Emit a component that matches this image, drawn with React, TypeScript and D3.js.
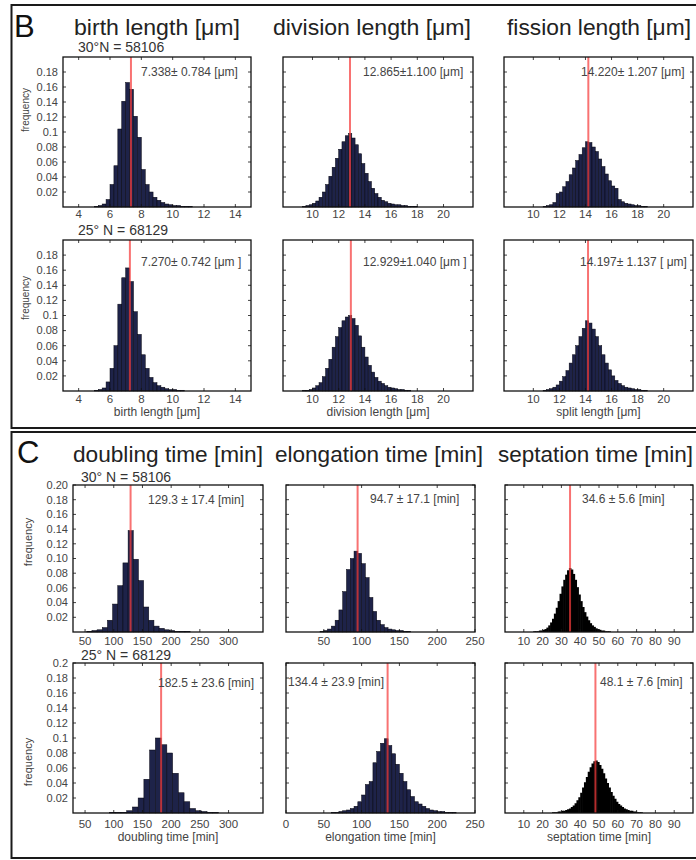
import { scaleLinear } from "d3"

// histogram frequencies per bin
const birth30 = [0.001, 0.002, 0.004, 0.01, 0.03, 0.055, 0.104, 0.141, 0.166, 0.157, 0.121, 0.093, 0.05, 0.03, 0.02, 0.013, 0.009, 0.006, 0.004, 0.003, 0.002, 0.002, 0.001, 0.001, 0.001]
const birth25 = [0.001, 0.002, 0.004, 0.012, 0.03, 0.06, 0.115, 0.15, 0.163, 0.145, 0.105, 0.075, 0.048, 0.03, 0.018, 0.011, 0.007, 0.005, 0.003, 0.002, 0.002, 0.001, 0.001]
const division30 = [0.001, 0.002, 0.003, 0.005, 0.008, 0.013, 0.02, 0.03, 0.041, 0.053, 0.065, 0.077, 0.087, 0.095, 0.098, 0.092, 0.083, 0.071, 0.058, 0.045, 0.034, 0.025, 0.018, 0.013, 0.009, 0.007, 0.005, 0.004, 0.003, 0.003, 0.002, 0.002, 0.001, 0.001, 0.001]
const division25 = [0.001, 0.001, 0.002, 0.004, 0.007, 0.011, 0.019, 0.03, 0.042, 0.058, 0.072, 0.084, 0.093, 0.098, 0.1, 0.096, 0.087, 0.073, 0.058, 0.045, 0.034, 0.025, 0.018, 0.013, 0.01, 0.007, 0.005, 0.004, 0.003, 0.002, 0.002, 0.001, 0.001]
const fission30 = [0.001, 0.002, 0.003, 0.006, 0.018, 0.02, 0.027, 0.034, 0.043, 0.052, 0.062, 0.07, 0.079, 0.087, 0.086, 0.08, 0.074, 0.064, 0.054, 0.044, 0.035, 0.028, 0.025, 0.01, 0.007, 0.005, 0.004, 0.003, 0.002, 0.002, 0.001, 0.001]
const split25 = [0.001, 0.002, 0.003, 0.005, 0.008, 0.013, 0.019, 0.027, 0.037, 0.048, 0.06, 0.072, 0.083, 0.093, 0.09, 0.082, 0.072, 0.06, 0.048, 0.037, 0.028, 0.02, 0.014, 0.01, 0.007, 0.005, 0.004, 0.003, 0.002, 0.002, 0.001, 0.001]
const doubling30 = [0.001, 0.002, 0.003, 0.006, 0.016, 0.038, 0.063, 0.094, 0.138, 0.099, 0.07, 0.034, 0.016, 0.008, 0.005, 0.003, 0.002, 0.001, 0.001, 0.001]
const doubling25 = [0.001, 0.001, 0.001, 0.003, 0.008, 0.02, 0.045, 0.084, 0.1, 0.091, 0.08, 0.053, 0.027, 0.015, 0.006, 0.003, 0.002, 0.001, 0.001]
const elongation30 = [0.001, 0.002, 0.004, 0.008, 0.016, 0.03, 0.055, 0.085, 0.1, 0.11, 0.107, 0.093, 0.074, 0.047, 0.028, 0.016, 0.01, 0.006, 0.004, 0.003, 0.002, 0.002, 0.001, 0.001]
const elongation25 = [0.001, 0.001, 0.002, 0.003, 0.004, 0.006, 0.009, 0.015, 0.024, 0.038, 0.042, 0.067, 0.082, 0.093, 0.099, 0.09, 0.079, 0.065, 0.053, 0.042, 0.031, 0.022, 0.015, 0.012, 0.009, 0.006, 0.004, 0.003, 0.002, 0.002, 0.001, 0.001, 0.001]
const septation30 = [0.001, 0.001, 0.001, 0.002, 0.002, 0.003, 0.004, 0.006, 0.009, 0.013, 0.018, 0.025, 0.033, 0.042, 0.052, 0.062, 0.071, 0.078, 0.084, 0.087, 0.085, 0.079, 0.071, 0.061, 0.051, 0.042, 0.034, 0.027, 0.021, 0.016, 0.012, 0.009, 0.007, 0.005, 0.004, 0.003, 0.002, 0.002, 0.001, 0.001, 0.001]
const septation25 = [0.001, 0.001, 0.001, 0.002, 0.002, 0.003, 0.003, 0.004, 0.005, 0.006, 0.008, 0.01, 0.013, 0.017, 0.021, 0.027, 0.034, 0.041, 0.048, 0.055, 0.061, 0.066, 0.069, 0.07, 0.068, 0.064, 0.059, 0.053, 0.046, 0.04, 0.034, 0.028, 0.023, 0.019, 0.015, 0.012, 0.01, 0.008, 0.006, 0.005, 0.004, 0.003, 0.003, 0.002, 0.002, 0.001, 0.001, 0.001]

const birthTicks = [4, 6, 8, 10, 12, 14]
const lengthTicks = [10, 12, 14, 16, 18, 20]
const doublingTicks = [50, 100, 150, 200, 250, 300]
const elongTicks30 = [50, 100, 150, 200, 250]
const elongTicks25 = [0, 50, 100, 150, 200, 250]
const septTicks = [10, 20, 30, 40, 50, 60, 70, 80, 90]
const freqTicks = [0.02, 0.04, 0.06, 0.08, 0.1, 0.12, 0.14, 0.16, 0.18]
const freqTicksC = [0.02, 0.04, 0.06, 0.08, 0.1, 0.12, 0.14, 0.16, 0.18, 0.2]

const font = "'Liberation Sans', Arial, sans-serif"
const navy = "#1e2349"

const short = (v) => String(+v.toFixed(2))
const two = (v) => v.toFixed(2)

const cols = [[63, 188], [283, 190], [504, 189]]
const colsC = [[73, 190], [286, 189], [505, 188]]

// [text, x, width] of the column titles
const titlesB = [["birth length [μm]", 74, 166], ["division length [μm]", 273, 198], ["fission length [μm]", 507, 184]]
const titlesC = [["doubling time [min]", 73, 190], ["elongation time [min]", 275, 208], ["septation time [min]", 498, 195]]

const panels = [
    { col: cols[0], top: 57, h: 150, dom: [3, 15], ticks: birthTicks, vals: birth30, start: 5, bin: 0.25, mean: 7.338, stat: "7.338\u00b1 0.784 [\u03bcm]", sx: 141, sy: 76, ylab: short, yt: freqTicks, off: 11, fill: navy },
    { col: cols[1], top: 57, h: 150, dom: [7.75, 22.25], ticks: lengthTicks, vals: division30, start: 9.25, bin: 0.25, mean: 12.865, stat: "12.865\u00b11.100 [\u03bcm]", sx: 363, sy: 76, yt: freqTicks, off: 11, fill: navy },
    { col: cols[2], top: 57, h: 150, dom: [7.75, 22.25], ticks: lengthTicks, vals: fission30, start: 10.75, bin: 0.25, mean: 14.22, stat: "14.220\u00b1 1.207 [\u03bcm]", sx: 581, sy: 76, yt: freqTicks, off: 11, fill: navy },
    { col: cols[0], top: 240, h: 151, dom: [3, 15], ticks: birthTicks, vals: birth25, start: 5, bin: 0.25, mean: 7.27, stat: "7.270\u00b1 0.742 [\u03bcm ]", sx: 141, sy: 266, ylab: short, yt: freqTicks, off: 12, fill: navy, xl: "birth length [\u03bcm]" },
    { col: cols[1], top: 240, h: 151, dom: [7.75, 22.25], ticks: lengthTicks, vals: division25, start: 9.25, bin: 0.25, mean: 12.929, stat: "12.929\u00b11.040 [\u03bcm ]", sx: 363, sy: 266, yt: freqTicks, off: 12, fill: navy, xl: "division length [\u03bcm]" },
    { col: cols[2], top: 240, h: 151, dom: [7.75, 22.25], ticks: lengthTicks, vals: split25, start: 10.75, bin: 0.25, mean: 14.197, stat: "14.197\u00b1 1.137 [ \u03bcm]", sx: 580, sy: 266, yt: freqTicks, off: 12, fill: navy, xl: "split length [\u03bcm]" },
    { col: colsC[0], top: 485, h: 147, dom: [29, 360], ticks: doublingTicks, vals: doubling30, start: 53, bin: 9, mean: 129.3, stat: "129.3 \u00b1 17.4 [min]", sx: 148, sy: 504, ylab: two, yt: freqTicksC, off: 13, fill: navy },
    { col: colsC[1], top: 485, h: 147, dom: [0, 250], ticks: elongTicks30, vals: elongation30, start: 45, bin: 5, mean: 94.7, stat: "94.7 \u00b1 17.1 [min]", sx: 370, sy: 503, yt: freqTicksC, off: 13, fill: navy },
    { col: colsC[2], top: 485, h: 147, dom: [0, 100], ticks: septTicks, vals: septation30, start: 15, bin: 1, mean: 34.6, stat: "34.6 \u00b1 5.6 [min]", sx: 582, sy: 503, yt: freqTicksC, off: 13, fill: "#000" },
    { col: colsC[0], top: 663, h: 150, dom: [29, 360], ticks: doublingTicks, vals: doubling25, start: 92.5, bin: 10, mean: 182.5, stat: "182.5 \u00b1 23.6 [min]", sx: 158, sy: 687, ylab: short, yt: freqTicksC, off: 15, fill: navy, xl: "doubling time [min]" },
    { col: colsC[1], top: 663, h: 150, dom: [0, 250], ticks: elongTicks25, vals: elongation25, start: 60, bin: 5, mean: 134.4, stat: "134.4 \u00b1 23.9 [min]", sx: 288, sy: 686, yt: freqTicksC, off: 15, fill: navy, xl: "elongation time [min]" },
    { col: colsC[2], top: 663, h: 150, dom: [0, 100], ticks: septTicks, vals: septation25, start: 25, bin: 1, mean: 48.1, stat: "48.1 \u00b1 7.6 [min]", sx: 600, sy: 686, yt: freqTicksC, off: 15, fill: "#000", xl: "septation time [min]" },
]

const Panel = ({ p }) => {
    const [left, w] = p.col
    const x = scaleLinear().domain(p.dom).range([left, left + w])
    const y = scaleLinear().domain([0, 0.2]).range([p.top + p.h, p.top])
    const bottom = p.top + p.h
    const right = left + w
    const solid = p.fill === "#000"
    return (
        <g>
            {p.vals.map((v, i) => {
                const x0 = x(p.start + i * p.bin)
                const x1 = x(p.start + (i + 1) * p.bin)
                // black histograms are drawn slightly overlapping so they read as one solid shape
                return <rect key={i} x={x0} y={y(v)} width={x1 - x0 + (solid ? 0.6 : 0)} height={y(0) - y(v)}
                    fill={p.fill} stroke={solid ? "none" : "#05050f"} strokeWidth={0.5} />
            })}
            <line x1={x(p.mean)} x2={x(p.mean)} y1={p.top} y2={bottom} stroke="#f53c3c" strokeOpacity={0.72} strokeWidth={2} />
            <rect x={left} y={p.top} width={w} height={p.h} fill="none" stroke="#111" strokeWidth={1.3} />
            {p.ticks.map(t => (
                <g key={t}>
                    <line x1={x(t)} x2={x(t)} y1={bottom} y2={bottom - 3} stroke="#111" strokeWidth={0.8} />
                    <line x1={x(t)} x2={x(t)} y1={p.top} y2={p.top + 3} stroke="#111" strokeWidth={0.8} />
                    <text x={x(t)} y={bottom + p.off} textAnchor="middle" fontSize={11.5} fill="#444" fontFamily={font}>{t}</text>
                </g>
            ))}
            {p.yt.map(t => (
                <g key={t}>
                    <line x1={left} x2={left + 3} y1={y(t)} y2={y(t)} stroke="#111" strokeWidth={0.8} />
                    <line x1={right} x2={right - 3} y1={y(t)} y2={y(t)} stroke="#111" strokeWidth={0.8} />
                    {p.ylab && <text x={left - 5} y={y(t)} dy="0.35em" textAnchor="end" fontSize={11} fill="#444" fontFamily={font}>{p.ylab(t)}</text>}
                </g>
            ))}
            <text x={p.sx} y={p.sy} fontSize={12} fill="#444" fontFamily={font}>{p.stat}</text>
            {p.xl && <text x={left + w / 2} y={bottom + p.off + 13} textAnchor="middle" fontSize={12} fill="#444" fontFamily={font}>{p.xl}</text>}
        </g>
    )
}

const App = () => {
    return (
        <svg width={696} height={860} style={{ position: "absolute", left: 0, top: 0, background: "#fff" }}>
            <rect x={11.5} y={5} width={700} height={423} fill="none" stroke="#1a1a1a" strokeWidth={2} />
            <rect x={11.5} y={432} width={700} height={426} fill="none" stroke="#1a1a1a" strokeWidth={2} />

            <text x={14} y={37} fontSize={31} fill="#111" fontFamily={font}>B</text>
            {titlesB.map(([t, x, len]) => (
                <text key={t} x={x} y={35} fontSize={22} fill="#222" fontFamily={font} textLength={len} lengthAdjust="spacingAndGlyphs">{t}</text>
            ))}
            <text x={78} y={52} fontSize={14} fill="#333" fontFamily={font}>30°N = 58106</text>
            <text x={78} y={235} fontSize={14} fill="#333" fontFamily={font}>25° N = 68129</text>

            <text x={17} y={463} fontSize={31} fill="#111" fontFamily={font}>C</text>
            {titlesC.map(([t, x, len]) => (
                <text key={t} x={x} y={462} fontSize={22} fill="#222" fontFamily={font} textLength={len} lengthAdjust="spacingAndGlyphs">{t}</text>
            ))}
            <text x={81} y={482} fontSize={14} fill="#333" fontFamily={font}>30° N = 58106</text>
            <text x={81} y={660} fontSize={14} fill="#333" fontFamily={font}>25° N = 68129</text>

            {[[29, 110, 10], [29, 298, 10], [32, 542, 11], [32, 762, 11]].map(([cx, cy, fs], i) => (
                <text key={i} transform={`translate(${cx},${cy}) rotate(-90)`} textAnchor="middle" fontSize={fs} fill="#444" fontFamily={font}>frequency</text>
            ))}

            {panels.map((p, i) => <Panel key={i} p={p} />)}
        </svg>
    )
}

export default App
